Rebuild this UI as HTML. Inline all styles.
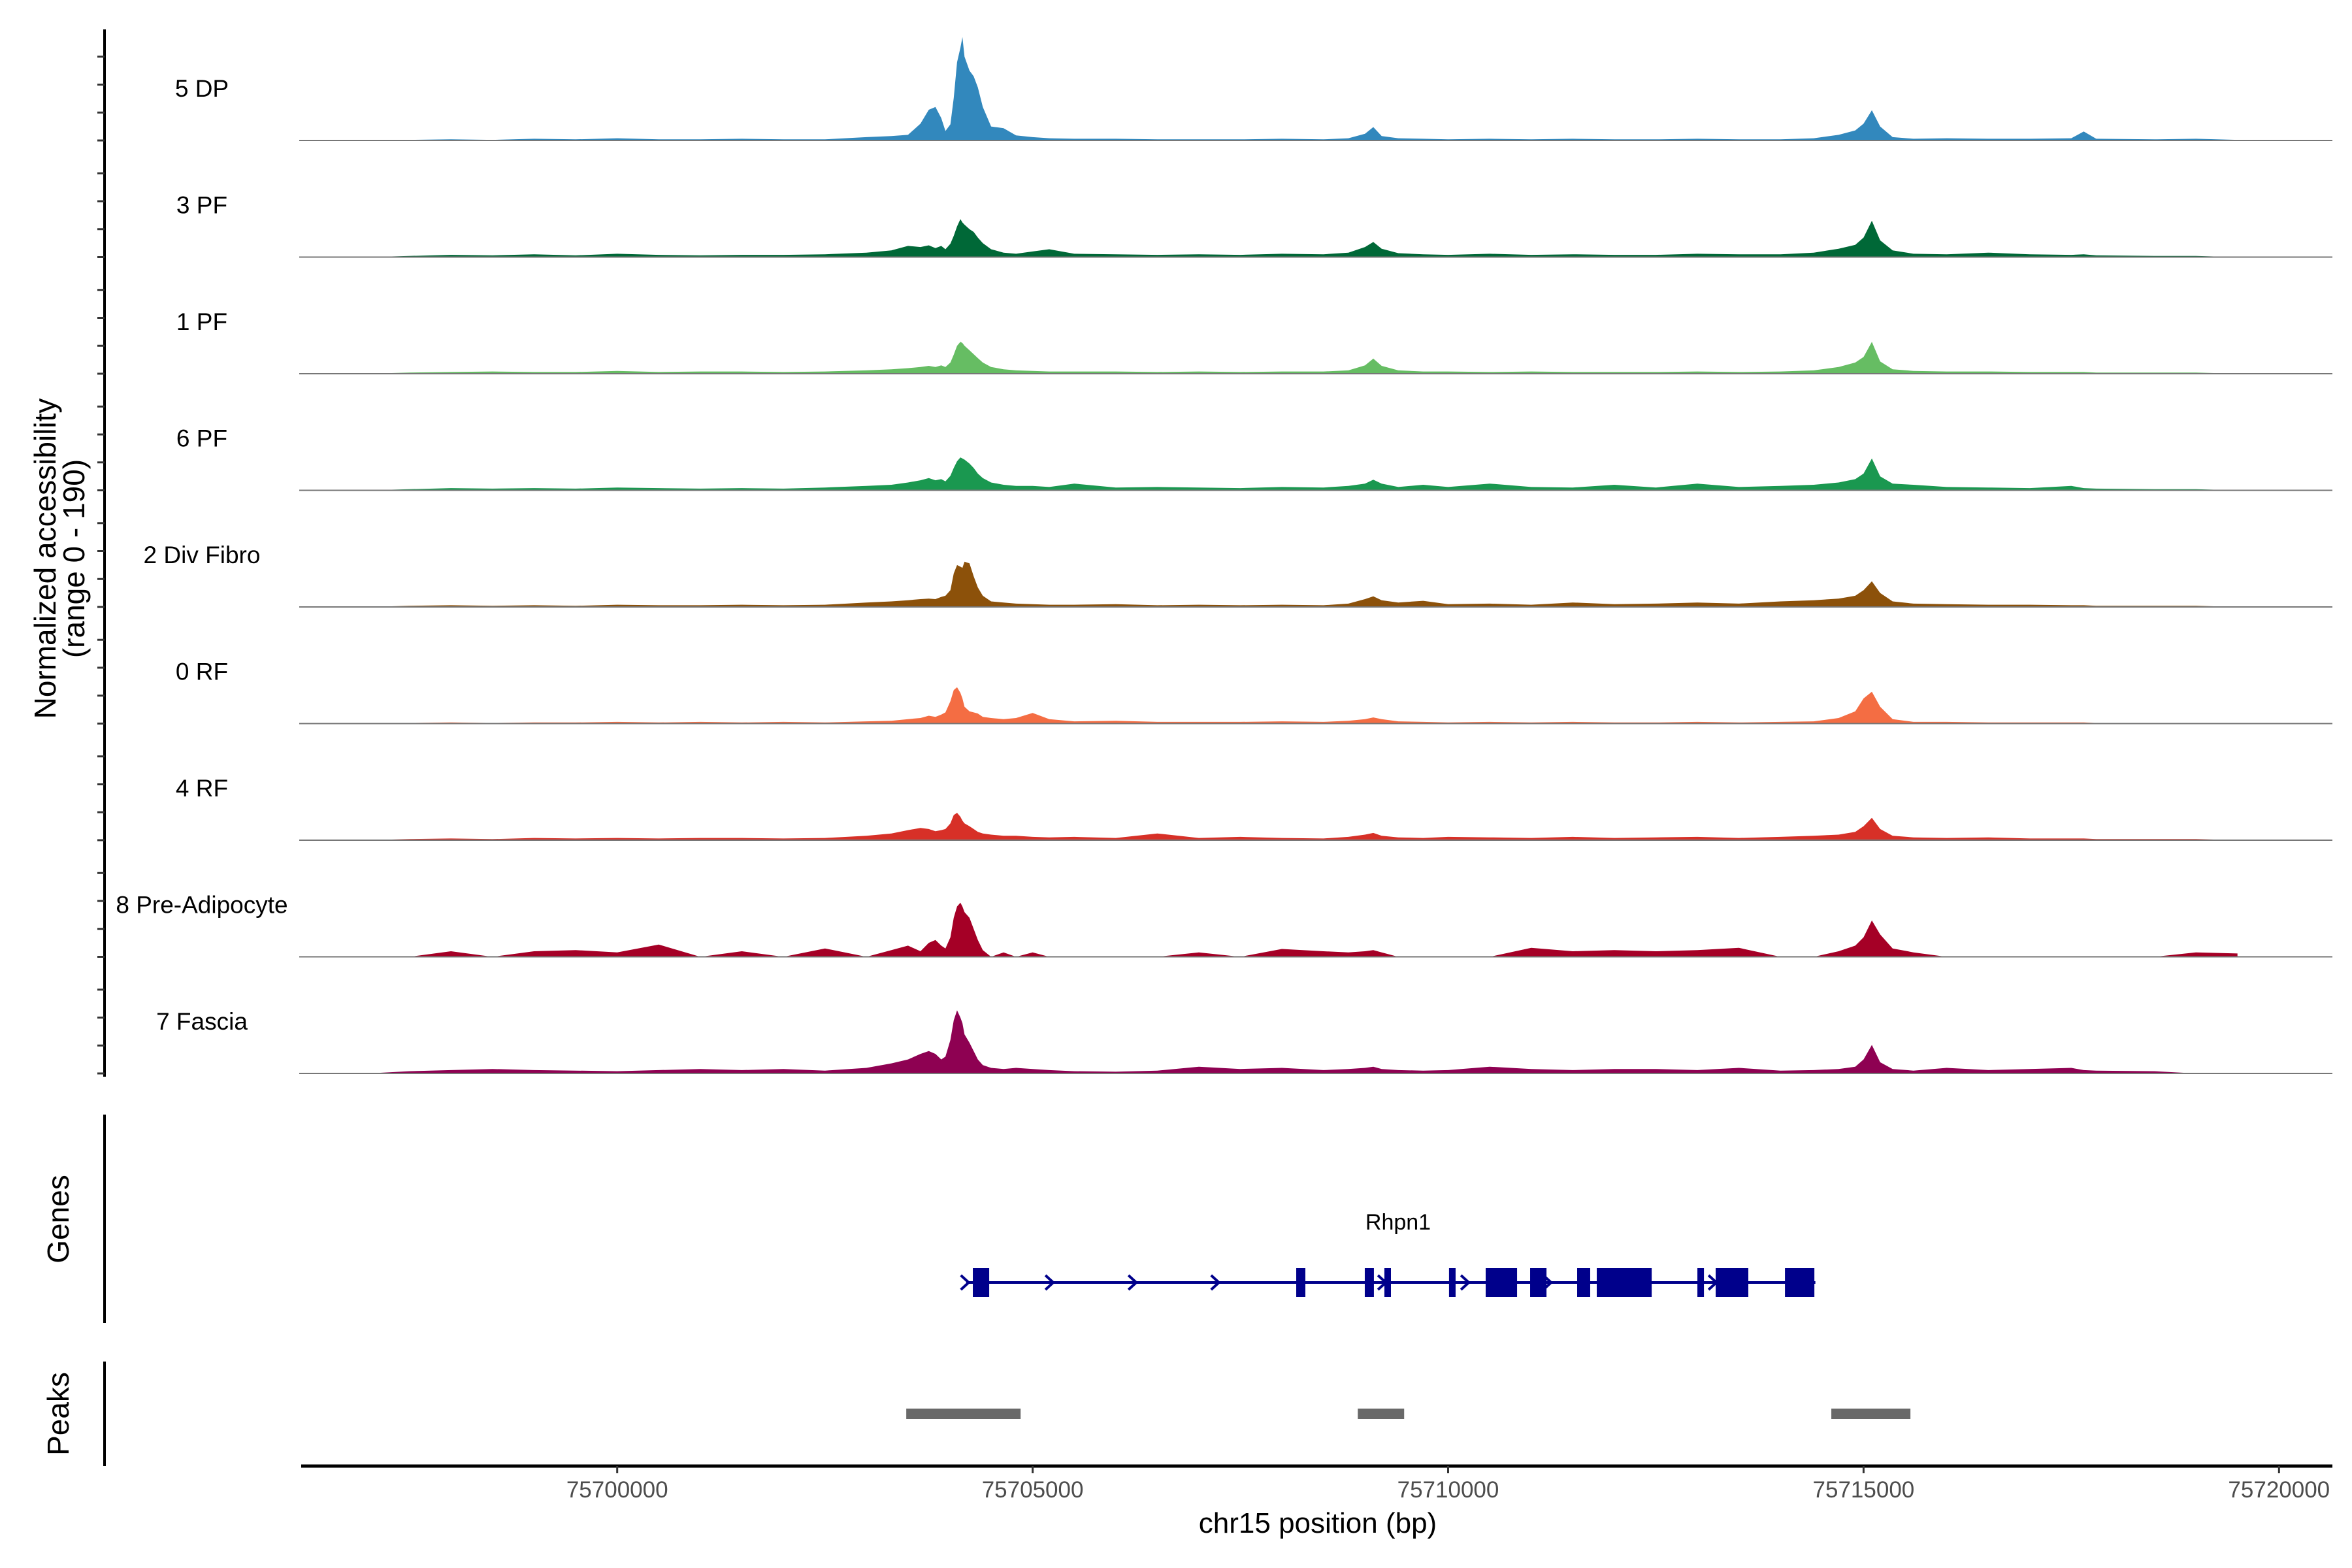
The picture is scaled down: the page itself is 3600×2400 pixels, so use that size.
<!DOCTYPE html>
<html><head><meta charset="utf-8"><style>
html,body{margin:0;padding:0;background:#fff;}
svg{display:block;font-family:"Liberation Sans",Arial,sans-serif;}
</style></head><body>
<svg id="chart" width="3600" height="2400" viewBox="0 0 3600 2400" xmlns="http://www.w3.org/2000/svg">
  <g font-size="46" fill="#000" text-anchor="middle">
    <text transform="translate(85,855) rotate(-90)">Normalized accessibility</text>
    <text transform="translate(129,855) rotate(-90)">(range 0 - 190)</text>
  </g>
  <line x1="160" y1="45" x2="160" y2="1648" stroke="#000" stroke-width="4"/>
  <line x1="160" y1="1706" x2="160" y2="2025" stroke="#000" stroke-width="4"/>
  <line x1="160" y1="2084" x2="160" y2="2244" stroke="#000" stroke-width="4"/>
  <text transform="translate(105,1866) rotate(-90)" font-size="46" text-anchor="middle">Genes</text>
  <text transform="translate(105,2164) rotate(-90)" font-size="46" text-anchor="middle">Peaks</text>
  <line x1="461" y1="2244" x2="3570" y2="2244" stroke="#000" stroke-width="5"/>
  <text x="2017" y="2346" font-size="44" text-anchor="middle">chr15 position (bp)</text>
  <g id="tracks"></g>
  <g id="genes"></g>
  <g id="peaks"></g>
  <g id="xaxis"></g>
</svg>
<script>
const positions = [-3500,-3000,-2500,-2000,-1500,-1000,-500,0,500,1000,1500,2000,2500,3000,
3300,3500,3650,3750,3830,3900,3950,4010,4050,4090,
4130,4155,4180,4240,4290,4340,4400,4500,4650,4800,
5000,5200,5500,6000,6500,7000,7500,8000,8500,8800,
9000,9100,9200,9400,9700,10000,10500,11000,11500,12000,
12500,13000,13500,14000,14400,14700,14900,15000,15100,15200,
15350,15600,16000,16500,17000,17500,17650,17800,18500,19000,19500];
const trackNames = ["5 DP","3 PF","1 PF","6 PF","2 Div Fibro","0 RF","4 RF","8 Pre-Adipocyte","7 Fascia"];
const trackColors = ["#3288bd","#006837","#66bd63","#1a9850","#8c510a","#f46d43","#d73027","#a50026","#8e0152"];
const dp5 = [0,0,1,2,1,3,2,4,2,2,3,2,2,6, 8,10,30,55,60,40,17,29,76,140, 166,185,150,125,115,95,60,25,22,9, 6,4,3,3,2,2,2,3,2,4, 12,24,8,4,3,2,3,2,3,2, 2,3,2,2,4,10,18,30,54,25, 6,3,4,3,3,4,16,3,2,3, 1];
const pf3 = [0,0,2,4,3,5,3,6,4,3,4,4,5,8, 12,20,18,21,16,20,14,24,38,55, 68,62,58,50,45,35,25,14,8,6, 10,14,6,5,4,5,4,6,5,8, 18,27,15,7,5,4,6,4,5,4, 4,6,5,5,8,15,22,35,65,30, 12,6,5,8,5,4,5,3,2,2, 0];
const pf1 = [0,0,2,3,4,3,3,5,3,4,4,3,4,6, 8,10,12,14,12,15,12,20,34,50, 57,55,50,42,35,28,20,12,8,6, 5,4,4,4,3,4,3,4,4,6, 15,27,14,6,4,4,3,4,3,3, 3,4,3,4,6,12,20,30,57,22, 8,5,4,4,3,3,3,2,2,2, 0];
const pf6 = [0,0,2,4,3,4,3,5,4,3,4,3,5,8, 10,14,18,22,18,20,16,26,40,52, 59,57,55,48,40,30,22,14,10,8, 8,6,12,5,6,5,4,6,5,8, 12,19,12,6,10,6,12,6,5,10, 5,12,6,8,10,14,20,30,57,25, 12,10,6,5,4,8,4,3,2,2, 0];
const divFibro2 = [0,0,2,3,2,3,2,4,3,3,4,3,4,8, 10,12,14,15,14,18,20,30,60,75, 72,70,81,78,55,35,20,10,8,6, 5,4,4,5,3,4,3,4,3,6, 14,19,12,8,11,5,6,4,8,5, 6,8,6,10,12,15,20,30,46,25, 10,6,5,4,4,3,3,2,2,2, 0];
const rf0 = [0,0,1,2,1,2,2,3,2,3,2,3,2,4, 5,8,10,14,12,16,20,40,60,65, 55,45,30,22,20,18,12,10,8,10, 19,8,4,5,3,3,3,4,3,5, 8,11,8,4,3,2,3,2,3,2, 2,3,2,3,4,10,22,45,57,30, 8,3,3,2,2,2,2,1,1,1, 0];
const rf4 = [0,0,2,3,2,4,3,4,3,4,4,3,4,8, 12,18,22,20,16,18,20,30,45,49, 42,35,30,25,20,15,12,10,8,8, 6,5,6,4,12,4,6,4,3,6, 10,13,8,5,4,6,5,4,6,4, 5,6,4,6,8,10,15,25,40,20, 8,5,4,5,3,3,3,2,2,2, 0];
const preAdipocyte8 = [0,0,0,10,0,10,12,8,22,0,10,0,15,0, 12,20,10,25,30,20,15,35,70,90, 97,90,80,70,50,30,12,0,8,0, 8,0,0,0,0,8,0,14,10,8, 10,12,8,0,0,0,0,16,10,12, 10,12,16,0,0,10,20,35,65,40, 15,8,0,0,0,0,0,0,0,8, 6];
const fascia7 = [0,0,4,6,8,6,5,4,6,8,6,8,5,10, 18,25,35,40,35,25,30,60,95,113, 100,90,70,55,40,25,15,10,8,10, 8,6,4,3,5,12,8,10,6,8, 10,12,8,6,5,6,12,8,6,8, 8,6,10,5,6,8,12,25,51,20, 8,5,10,6,8,10,6,5,4,0, 0];
const trackValues = [dp5,pf3,pf1,pf6,divFibro2,rf0,rf4,preAdipocyte8,fascia7];
const yTicks = [0,50,100,150];
const xTicks = [75700000,75705000,75710000,75715000,75720000];
const exonStarts = [75704280,75708172,75708997,75709233,75710011,75710452,75710987,75711553,75711789,75713000,75713220,75714054];
const exonEnds   = [75704477,75708282,75709107,75709312,75710090,75710830,75711184,75711710,75712450,75713079,75713613,75714408];
const geneStart = 75704200, geneEnd = 75714420;
const arrowPos = [75704230,75705248,75706247,75707242,75709250,75710249,75711240,75713229];
const peakStarts = [75703479,75708913,75714612];
const peakEnds   = [75704855,75709471,75715564];

const NS = "http://www.w3.org/2000/svg";
const ORIGIN = 75700000;
function xs(bp){ return 944.7 + (bp - ORIGIN) * 0.12718; }
const UNIT = 0.855;
const base0 = 215, step = 178.5;
function ys(v, i){ return base0 + i*step - v*UNIT; }
function mk(tag, attrs, parent){ const e=document.createElementNS(NS,tag); for(const k in attrs) e.setAttribute(k,attrs[k]); parent.appendChild(e); return e; }

const tracks = document.getElementById('tracks');
trackNames.forEach((name, i) => {
  const g = mk('g', {}, tracks);
  
  
  const base = ys(0, i);
  const vals = trackValues[i];
  let d = 'M' + xs(ORIGIN + positions[0]).toFixed(1) + ',' + base;
  positions.forEach((p, j) => { d += ' L' + xs(ORIGIN + p).toFixed(1) + ',' + ys(vals[j], i).toFixed(1); });
  d += ' L' + xs(ORIGIN + positions[positions.length-1]).toFixed(1) + ',' + base + ' Z';
  const area = mk('path', {d: d, fill: trackColors[i], stroke: 'none'}, g);
  
  
  const bl = mk('line', {x1: 458, x2: 3570, y1: base, y2: base, stroke: '#777', 'stroke-width': 2}, g);
  
  
  const lab = mk('text', {x: 309, y: base - 67, 'font-size': 37, 'text-anchor': 'middle', fill: '#000'}, g);
  lab.textContent = name;
  
  
  yTicks.forEach(t => {
    const tk = mk('line', {x1: 149, x2: 160, y1: ys(t, i), y2: ys(t, i), stroke: '#333', 'stroke-width': 3}, g);
    
    
  });
});

const genes = document.getElementById('genes');
const gy = 1963;
const gl = mk('line', {x1: xs(geneStart), x2: xs(geneEnd), y1: gy, y2: gy, stroke: '#00008b', 'stroke-width': 4}, genes);


arrowPos.forEach(a => {
  const x = xs(a);
  const ch = mk('polyline', {points: (x-12)+','+(gy-11)+' '+x+','+gy+' '+(x-12)+','+(gy+11), fill: 'none', stroke: '#00008b', 'stroke-width': 4}, genes);
  
  
});
exonStarts.forEach((s, k) => {
  const ex = mk('rect', {x: xs(s), y: 1941, width: xs(exonEnds[k]) - xs(s), height: 44, fill: '#00008b'}, genes);
  
  
});
const gname = mk('text', {x: 2140, y: 1882, 'font-size': 34, 'text-anchor': 'middle', fill: '#000'}, genes);
gname.textContent = 'Rhpn1';



const peaks = document.getElementById('peaks');
peakStarts.forEach((s, k) => {
  const pk = mk('rect', {x: xs(s), y: 2156, width: xs(peakEnds[k]) - xs(s), height: 16, fill: '#696969'}, peaks);
  
  
});

const xa = document.getElementById('xaxis');
xTicks.forEach(t => {
  const x = xs(t);
  const tk = mk('line', {x1: x, x2: x, y1: 2244, y2: 2255, stroke: '#333', 'stroke-width': 3}, xa);
  
  
  const tl = mk('text', {x: x, y: 2292, 'font-size': 35, 'text-anchor': 'middle', fill: '#4d4d4d'}, xa);
  tl.textContent = String(t);
  
  
});
</script>
</body></html>
